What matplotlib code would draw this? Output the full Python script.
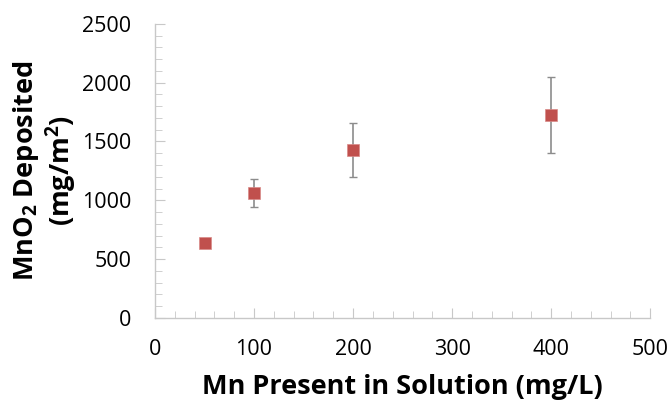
import numpy as np
import matplotlib
matplotlib.use("Agg")
import matplotlib.pyplot as plt
from matplotlib.ticker import MultipleLocator

plt.rcParams['font.family'] = ['Open Sans', 'DejaVu Sans']
plt.rcParams['mathtext.fontset'] = 'custom'
plt.rcParams['mathtext.rm'] = 'Open Sans'
plt.rcParams['mathtext.bf'] = 'Open Sans:bold'

mn_conc = [50, 100, 200, 400]
mno2_dep = [638, 1063, 1428, 1726]
err = [0, 120, 230, 320]

fig = plt.figure(figsize=(6.71, 4.04), dpi=100)
ax = fig.add_axes([0.231, 0.213, 0.738, 0.728])

ax.errorbar(mn_conc, mno2_dep, yerr=err, fmt='none', ecolor='#8c8c8c',
            elinewidth=1.2, capsize=3, capthick=1.0, zorder=2)
ax.plot(mn_conc, mno2_dep, 's', color='#C0504D', markersize=8,
        markeredgecolor='#D88A88', markeredgewidth=0.5, zorder=3)

ax.set_xlim(0, 500)
ax.set_ylim(0, 2500)
ax.xaxis.set_major_locator(MultipleLocator(100))
ax.xaxis.set_minor_locator(MultipleLocator(20))
ax.yaxis.set_major_locator(MultipleLocator(500))
ax.yaxis.set_minor_locator(MultipleLocator(100))

for s in ['top', 'right']:
    ax.spines[s].set_visible(False)
for s in ['left', 'bottom']:
    ax.spines[s].set_color('#c8c8c8')
    ax.spines[s].set_linewidth(1.0)

ax.tick_params(which='major', direction='in', length=7, color='#c8c8c8',
               labelsize=15.5)
ax.tick_params(which='minor', direction='in', length=5, color='#c8c8c8')
ax.tick_params(axis='x', which='major', pad=15)
ax.tick_params(axis='y', which='major', pad=17)

ax.set_xlabel('Mn Present in Solution (mg/L)', fontsize=19.5, fontweight='bold',
              labelpad=10)
ax.set_ylabel(r'MnO$_\mathbf{2}$ Deposited' + '\n' + r'(mg/m$^\mathbf{2}$)',
              fontsize=19.5, fontweight='bold', linespacing=1.1, labelpad=2)

fig.savefig('out.png', dpi=100)
